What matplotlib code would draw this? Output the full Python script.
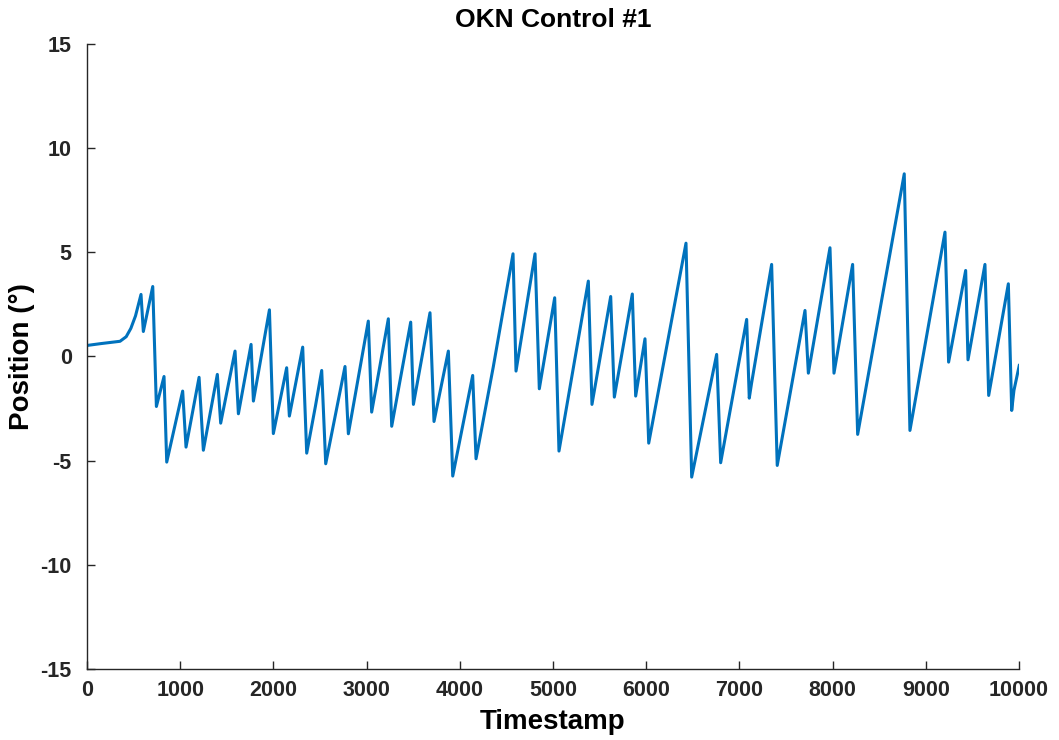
import matplotlib
matplotlib.use("Agg")
from matplotlib import pyplot as plt

# eye position trace (vertices of the OKN sawtooth)
timestamp = [0, 150, 354, 420, 470, 520, 579, 604, 705, 744, 826, 855, 1026, 1062, 1202, 1248,
             1398, 1434, 1588, 1624, 1760, 1785, 1957, 1999, 2142, 2171, 2314, 2357,
             2450, 2518, 2561, 2768, 2804, 3018, 3054, 3233, 3269, 3473, 3502, 3680,
             3723, 3877, 3924, 4138, 4174, 4359, 4571, 4603, 4807, 4853, 5018, 5064,
             5379, 5418, 5619, 5658, 5851, 5887, 5987, 6027, 6427, 6488, 6756, 6799,
             7078, 7106, 7130, 7346, 7406, 7704, 7740, 7972, 8015, 8215, 8269, 8769,
             8830, 9206, 9245, 9428, 9453, 9635, 9675, 9886, 9922, 9946, 10003]
position = [0.53, 0.62, 0.73, 0.95, 1.35, 1.95, 2.98, 1.2, 3.36, -2.4, -0.96, -5.07, -1.66, -4.35,
            -1.0, -4.5, -0.86, -3.2, 0.26, -2.75, 0.58, -2.14, 2.24, -3.7, -0.54, -2.86,
            0.45, -4.64, -2.4, -0.67, -5.15, -0.48, -3.71, 1.7, -2.67, 1.81, -3.35, 1.65,
            -2.3, 2.1, -3.12, 0.26, -5.74, -0.91, -4.91, -0.5, 4.93, -0.7, 4.93, -1.55,
            2.82, -4.54, 3.62, -2.3, 2.88, -1.95, 3.0, -1.9, 0.85, -4.16, 5.44, -5.79,
            0.1, -5.1, 1.78, -2.0, -1.3, 4.42, -5.23, 2.21, -0.8, 5.22, -0.8, 4.42,
            -3.74, 8.77, -3.55, 5.97, -0.27, 4.13, -0.16, 4.42, -1.87, 3.49, -2.59,
            -1.63, -0.43]

plt.rcParams['font.family'] = ['Liberation Sans', 'DejaVu Sans']
plt.rcParams['font.weight'] = 'bold'
plt.rcParams['axes.unicode_minus'] = False

fig = plt.figure(figsize=(10.59, 7.40), dpi=100)
ax = fig.add_axes([0.0822, 0.096, 0.880, 0.8445])
ax.plot(timestamp, position, color='#0072BD', linewidth=2.2)

ax.set_xlim(0, 10000)
ax.set_ylim(-15, 15)
ax.set_xticks(range(0, 10001, 1000))
ax.set_yticks(range(-15, 16, 5))
ax.spines['top'].set_visible(False)
ax.spines['right'].set_visible(False)
for s in ('left', 'bottom'):
    ax.spines[s].set_color('#262626')
    ax.spines[s].set_linewidth(1.0)
ax.tick_params(direction='in', length=6, width=1.0, colors='#262626',
               labelsize=15.5, labelcolor='#262626')
ax.tick_params(axis='y', pad=11)
ax.tick_params(axis='x', pad=8)
for lab in ax.get_xticklabels() + ax.get_yticklabels():
    lab.set_fontweight('bold')

ax.set_title('OKN Control #1', fontsize=19, fontweight='bold', pad=12)
ax.set_xlabel('Timestamp', fontsize=20, fontweight='bold', labelpad=6)
ax.set_ylabel('Position (°)', fontsize=20, fontweight='bold', labelpad=4)

fig.savefig('out.png', dpi=100)
